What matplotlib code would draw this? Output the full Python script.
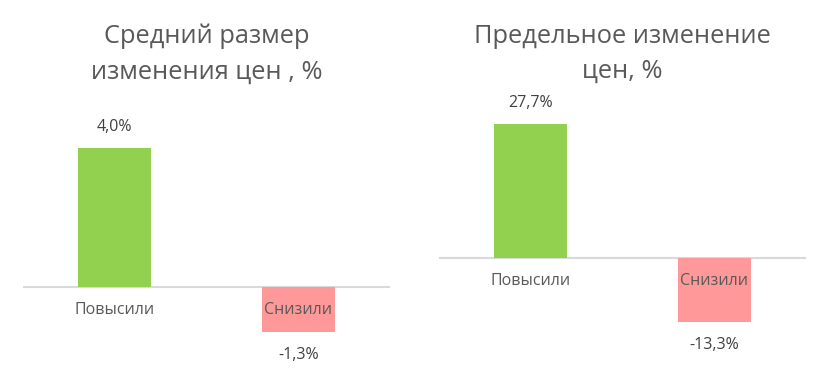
import matplotlib.pyplot as plt

# категории и значения
categories = ["Повысили", "Снизили"]
avg_change = [4.0, -1.3]
max_change = [27.7, -13.3]
titles = ["Средний размер\nизменения цен , %", "Предельное изменение\nцен, %"]
bar_colors = ["#92D050", "#FF9999"]

plt.rcParams['font.family'] = ['Open Sans', 'DejaVu Sans']

W, H = 829, 379
fig = plt.figure(figsize=(W / 100, H / 100), dpi=100)

def px_box(x0, x1, y_top, y_bot):
    return [x0 / W, 1 - y_bot / H, (x1 - x0) / W, (y_bot - y_top) / H]

# оси: (левый край, правый край, ноль по y, пикселей на единицу)
panels = [
    (23, 390, 287, 34.75, avg_change, titles[0], 207),
    (439, 806, 258, 4.84, max_change, titles[1], 622),
]

for x0, x1, zero_y, scale, vals, title, tx in panels:
    top, bot = 90, 370
    ax = fig.add_axes(px_box(x0, x1, top, bot))
    ax.set_xlim(-0.5, 1.5)
    ax.set_ylim(-(bot - zero_y) / scale, (zero_y - top) / scale)
    ax.bar(range(len(vals)), vals, width=0.4, color=bar_colors, zorder=2)
    ax.axhline(0, color="#D9D9D9", lw=1.5, zorder=1)
    ax.axis("off")
    for i, v in enumerate(vals):
        txt = ("%.1f%%" % v).replace(".", ",")
        off = 21 if v > 0 else -23
        ax.annotate(txt, (i, v), xytext=(0, off), textcoords="offset pixels",
                    ha="center", va="center", fontsize=11.5, color="#404040")
        ax.annotate(categories[i], (i, 0), xytext=(0, -23), textcoords="offset pixels",
                    ha="center", va="center", fontsize=11.5, color="#595959", zorder=3)
    fig.text(tx / W, 1 - 54 / H, title, ha="center", va="center",
             fontsize=18.3, color="#595959", linespacing=1.55)

plt.savefig("out.png", dpi=100)
